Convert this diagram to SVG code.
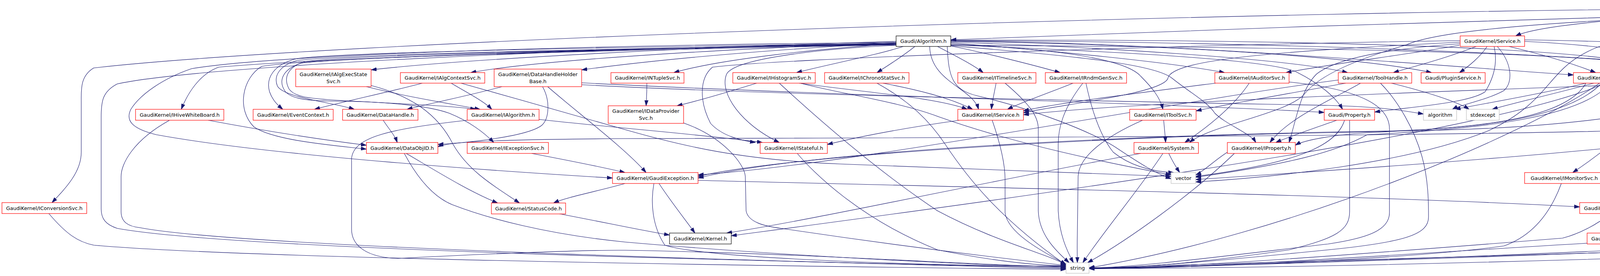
<svg xmlns="http://www.w3.org/2000/svg" width="6165" height="707" viewBox="0 0 6165 707">
<defs>
<style>
.node rect{fill:#fff;stroke:#ff0000;stroke-width:1.2}
.node.ext rect{stroke:#bfbfbf}
.node.blk rect{stroke:#000}
.node.root rect{fill:#bfbfbf;stroke:#000}
.node text{font-family:"DejaVu Sans","Liberation Sans",sans-serif;font-size:13px;fill:#000;text-anchor:middle}
#edges path{fill:none;stroke:#191970;stroke-width:1.1;marker-end:url(#arr)}
</style>
<marker id="arr" viewBox="0 0 14 10" refX="14" refY="5" markerWidth="14" markerHeight="10" markerUnits="userSpaceOnUse" orient="auto"><path d="M0,0.5L14,5L0,9.5z" fill="#191970" stroke="#191970" stroke-width="1"/></marker>
</defs>
<rect width="6165" height="707" fill="#fff"/>
<g id="edges">
<path d="M4792,24 C4200,40 3200,70 2434,102"/>
<path d="M4792,22 C4300,30 3950,60 3880,92"/>
<path d="M4792,19 C3000,25 800,110 240,174 C205,195 208,230 208,260 L208,390 C208,440 170,480 133,519"/>
<path d="M4907,34 C4860,110 4790,200 4745,280"/>
<path d="M4915,34 C4912,150 4880,260 4800,360 C4700,470 4540,550 4382,597"/>
<path d="M4922,34 C4962,130 4966,220 4966,300 C4966,370 4980,410 4992,442"/>
<path d="M4940,34 C4990,60 5030,80 5050,92"/>
<path d="M4970,34 C5080,60 5180,80 5215,92"/>
<path d="M5010,34 C5150,55 5300,70 5380,83"/>
<path d="M5037,27 C5250,40 5480,75 5570,92"/>
<path d="M5037,24 C5350,35 5650,70 5770,92"/>
<path d="M5037,21 C5500,30 5900,70 5990,92"/>
<path d="M4792,28 C4300,40 3720,60 3600,115 C3480,150 3380,190 3340,240 C3300,290 3100,320 3045,365"/>
<path d="M4792,30 C4400,50 4150,80 4050,140 C3960,190 3960,265 3810,335 C3600,420 3250,455 3061,466"/>
<path d="M2294,106 C1800,120 1200,150 950,179"/>
<path d="M2294,108 C1900,125 1400,150 1205,186"/>
<path d="M2294,110 C2000,125 1700,150 1489,179"/>
<path d="M2294,112 C2100,125 1850,150 1725,186"/>
<path d="M2312,119 C2250,140 2120,165 2039,186"/>
<path d="M2342,119 C2310,145 2270,170 2245,186"/>
<path d="M2400,119 C2440,140 2490,165 2517,186"/>
<path d="M2431,117 C2520,135 2640,165 2714,186"/>
<path d="M2434,110 C2700,130 3000,160 3135,186"/>
<path d="M2434,108 C2800,120 3300,150 3450,186"/>
<path d="M2434,106 C2900,112 3450,140 3665,186"/>
<path d="M2434,105 C3000,108 3700,170 4028,192"/>
<path d="M2434,104 C3200,106 4200,140 4434,186"/>
<path d="M2380,119 C2382,210 2490,225 2505,280"/>
<path d="M2434,113 C2700,125 2880,150 2920,195 C2950,225 2970,250 2977,280"/>
<path d="M2434,115 C2800,130 3250,150 3320,185 C3380,215 3420,250 3437,280"/>
<path d="M2434,117 C2700,140 2950,160 3000,200 C3050,240 3090,260 3110,290 C3140,320 3200,340 3215,365"/>
<path d="M2434,103 C3300,100 4150,120 4250,180 C4280,240 4150,360 4026,442"/>
<path d="M2434,116 C3200,120 4100,130 4270,175 C4320,220 4300,300 4290,400 C4280,500 4240,560 4194,597"/>
<path d="M2294,116 C2100,125 1880,150 1860,190 C1840,240 1900,320 1995,365"/>
<path d="M2294,113 C1600,124 900,138 760,155 C715,168 700,195 710,220 C725,250 850,262 907,280"/>
<path d="M2294,114 C1600,125 900,140 780,158 C735,172 725,200 740,228 C755,250 800,252 850,256 C1000,265 1150,270 1218,280"/>
<path d="M2294,115 C1600,128 900,145 770,162 C722,178 712,208 730,234 C748,256 800,258 850,259 C1000,260 1100,272 1150,290 C1200,310 1240,340 1264,365"/>
<path d="M2294,111 C1600,120 900,133 760,150 C700,165 680,200 690,235 C698,258 712,270 724,280"/>
<path d="M2294,112 C1600,122 800,150 560,172 C510,190 480,240 464,280"/>
<path d="M2294,113 C1600,125 800,148 670,170 C620,200 605,280 650,325 C700,360 850,372 938,382"/>
<path d="M2294,112 C1500,120 500,170 300,215 C262,235 259,260 259,300 L259,535 C259,560 270,575 300,585 C600,640 2000,670 2729,686"/>
<path d="M2294,109 C1500,115 700,140 490,176 C420,200 360,240 335,280 C320,310 340,330 400,345 C700,400 1300,440 1568,456"/>
<path d="M2425,119 C2428,200 2440,230 2500,245 C2650,280 2800,340 2860,380 C2920,420 2960,445 2998,458"/>
<path d="M3736,116 C3600,140 3400,165 3292,186"/>
<path d="M3779,119 C3700,150 3620,170 3567,186"/>
<path d="M3807,119 C3790,145 3760,170 3736,186"/>
<path d="M3825,119 C3832,150 3830,190 3802,235 C3760,265 3600,275 3519,287"/>
<path d="M3833,119 C3870,160 3875,210 3850,232 C3810,255 3740,268 3718,280"/>
<path d="M3863,119 C3950,140 4020,160 4085,186"/>
<path d="M3903,106 C4100,115 4350,150 4452,186"/>
<path d="M3903,102 C4400,110 4700,140 4700,200 C4700,240 4630,265 4592,280"/>
<path d="M3738,104 C3000,115 2000,150 1824,172 C1790,200 1790,260 1819,316 C1850,350 1900,360 1934,365"/>
<path d="M3738,108 C3300,130 3000,150 2990,200 C2980,240 2700,270 2620,289"/>
<path d="M3738,112 C3550,125 3420,150 3370,190 C3330,230 3320,300 3300,365"/>
<path d="M938,222 C1050,250 1150,265 1229,280"/>
<path d="M950,219 C1050,245 1120,290 1160,370 C1200,440 1270,480 1330,520"/>
<path d="M1081,213 C1000,235 880,260 805,280"/>
<path d="M1155,213 C1200,240 1240,260 1259,280"/>
<path d="M1180,213 C1320,252 1480,298 1600,332 C1750,375 1900,410 2150,420 C2500,435 2850,448 2998,452"/>
<path d="M1285,222 C1200,245 1100,265 1042,280"/>
<path d="M1389,222 C1410,260 1405,305 1387,321 C1350,350 1200,365 1121,370"/>
<path d="M1402,222 C1480,290 1600,380 1654,442"/>
<path d="M1489,217 C2000,245 3000,262 3400,270 C3550,274 3600,285 3644,292"/>
<path d="M1489,212 C2000,240 3000,265 3390,288"/>
<path d="M981,308 C995,330 1010,345 1017,365"/>
<path d="M533,308 C650,330 800,355 938,372"/>
<path d="M434,308 C340,360 310,420 310,452 L310,542 C310,570 330,580 357,583 C600,630 1800,665 2729,688"/>
<path d="M125,547 C170,600 200,620 240,628 C600,660 1800,680 2729,690"/>
<path d="M1196,308 C1000,330 905,350 900,406 L900,587 C900,630 940,660 1019,662 C1250,650 1500,640 1600,641 C2100,650 2500,680 2729,684"/>
<path d="M1380,306 C1600,330 1800,345 1952,365"/>
<path d="M1040,393 C1120,440 1200,490 1274,520"/>
<path d="M1035,393 C1060,440 1100,500 1157,524 C1250,560 1400,600 1600,620 C2000,655 2500,680 2729,683"/>
<path d="M1361,393 C1450,410 1550,430 1600,442"/>
<path d="M1600,470 C1530,490 1450,505 1417,520"/>
<path d="M1687,470 C1720,520 1760,570 1779,597"/>
<path d="M1674,470 C1665,520 1670,580 1702,628 C1800,660 2300,680 2729,682"/>
<path d="M1787,462 C2500,480 3500,500 4044,530"/>
<path d="M1428,547 C1550,570 1650,592 1714,602"/>
<path d="M1656,213 C1656,240 1655,255 1654,271"/>
<path d="M1937,213 C1850,240 1780,260 1733,271"/>
<path d="M1995,213 C2100,310 2250,440 2400,540 C2550,620 2680,650 2729,678"/>
<path d="M2046,213 C2200,235 2400,250 2476,280"/>
<path d="M2049,213 C2150,240 2300,260 2400,298 C2600,370 2850,420 2998,448"/>
<path d="M2260,213 C2350,230 2430,250 2490,280"/>
<path d="M2245,213 C2330,260 2380,310 2420,370 C2480,460 2560,560 2729,679"/>
<path d="M1750,315 C1850,350 1906,420 1908,452 L1910,540 C1915,570 1960,580 2000,585 C2300,630 2550,660 2729,680"/>
<path d="M2041,393 C2080,440 2200,560 2400,640 C2550,670 2650,680 2729,681"/>
<path d="M2550,213 C2545,240 2540,260 2538,280"/>
<path d="M2573,213 C2640,270 2658,300 2658,330 L2658,540 C2660,600 2700,640 2737,673"/>
<path d="M2747,213 C2680,240 2620,260 2579,280"/>
<path d="M2772,213 C2720,280 2709,330 2709,370 L2709,540 C2712,600 2730,640 2748,673"/>
<path d="M2780,213 C2790,260 2810,340 2850,390 C2900,430 2960,440 3005,442"/>
<path d="M3112,213 C2900,240 2700,265 2620,284"/>
<path d="M3198,213 C3160,270 3100,320 3033,365"/>
<path d="M3300,210 C3450,225 3557,260 3557,330 L3557,545 C3557,590 3500,610 3400,625 C3100,660 2900,686 2788,686"/>
<path d="M2456,308 C2300,330 2200,350 2118,370"/>
<path d="M2540,308 C2565,380 2573,430 2573,460 L2573,545 C2580,600 2680,650 2729,677"/>
<path d="M2979,308 C2981,330 2983,350 2984,365"/>
<path d="M2925,308 C2830,350 2762,400 2760,452 L2758,600 C2757,640 2758,660 2758,673"/>
<path d="M2992,393 C3000,410 3012,430 3020,442"/>
<path d="M2977,393 C2920,480 2820,600 2772,673"/>
<path d="M2920,393 C2500,470 2100,560 1860,597"/>
<path d="M3142,390 C3110,410 3080,440 3061,448"/>
<path d="M3160,393 C3050,500 2880,620 2784,673"/>
<path d="M3445,213 C3300,240 3150,265 3062,284"/>
<path d="M3483,213 C3420,250 3300,300 3251,365"/>
<path d="M3534,213 C3580,260 3620,330 3640,400 C3657,460 3657,520 3657,556 C3657,600 3600,620 3400,640 C3100,670 2900,687 2788,687"/>
<path d="M3562,213 C3650,235 3730,260 3761,280"/>
<path d="M3426,205 C3000,260 2200,420 1787,448"/>
<path d="M3422,308 C3360,330 3300,350 3266,365"/>
<path d="M3442,308 C3420,380 3300,420 3061,452"/>
<path d="M3455,308 C3455,380 3455,450 3455,542 C3455,590 3420,610 3300,640 C3100,670 2900,688 2788,688"/>
<path d="M3997,470 C3975,530 3935,600 3850,630 C3600,665 3000,688 2788,688"/>
<path d="M4060,213 C3950,240 3800,265 3725,280"/>
<path d="M4080,213 C3980,240 3870,265 3820,280"/>
<path d="M4100,213 C4000,320 3700,330 3500,340 C3420,345 3340,358 3316,372"/>
<path d="M4122,213 C4050,300 3800,330 3500,345 C3420,390 3300,420 3061,454"/>
<path d="M4060,213 C4000,320 3700,335 3400,340 C2800,350 2000,400 1787,452"/>
<path d="M4110,213 C3800,350 2500,520 1872,604"/>
<path d="M4135,213 C4137,300 4138,420 4138,520"/>
<path d="M4186,213 C4300,240 4400,265 4449,280"/>
<path d="M4095,213 C3900,350 3300,600 2788,686"/>
<path d="M4495,213 C4380,300 4250,420 4153,520"/>
<path d="M4490,213 C4420,250 4388,270 4388,294 L4385,452 C4380,520 4320,560 4230,597"/>
<path d="M4536,213 C4532,240 4525,260 4520,280"/>
<path d="M4643,213 C4750,225 4870,280 4870,330 L4870,560 C4870,600 4830,614 4760,620 C4400,645 3200,670 2788,687"/>
<path d="M4477,213 C4300,290 4000,330 3600,335 C3000,342 2100,380 1787,456"/>
<path d="M4418,208 C3800,230 2900,260 2620,294"/>
<path d="M4510,308 C4480,380 4474,420 4474,460 L4474,540 C4474,580 4450,610 4388,628 C4000,650 3200,680 2788,687"/>
<path d="M4668,308 C4500,345 3000,352 1600,355 C1300,357 1150,362 1121,376"/>
<path d="M4668,308 C4300,380 3500,430 3061,460"/>
<path d="M4735,308 C4760,360 4763,400 4763,430 L4763,565 C4763,600 4740,614 4700,620 C4400,640 3200,680 2788,688"/>
<path d="M4143,547 C4148,565 4153,585 4156,597"/>
<path d="M4176,547 C4230,565 4280,585 4311,597"/>
<path d="M4122,547 C4090,575 4040,600 4000,610 C3500,650 3000,688 2788,688"/>
<path d="M4063,623 C3600,650 3100,688 2788,687"/>
<path d="M4996,470 C4980,530 4950,590 4882,628 C4700,650 3400,688 2788,688"/>
</g>
<g id="n-root" class="node root"><rect x="4792" y="5.5" width="245" height="28"/><text x="4914.5" y="24">GaudiHive/src/HiveDataBroker.cpp</text></g>
<g id="n-alg" class="node blk"><rect x="2294" y="92" width="140" height="27"/><text x="2364" y="110">Gaudi/Algorithm.h</text></g>
<g id="n-svc" class="node"><rect x="3738" y="92" width="165" height="27"/><text x="3820.5" y="110">GaudiKernel/Service.h</text></g>
<g id="n-blex" class="node ext"><rect x="5002" y="92" width="166" height="27"/><text x="5085" y="110">boost/lexical_cast.hpp</text></g>
<g id="n-btok" class="node ext"><rect x="5192" y="92" width="149" height="27"/><text x="5266.5" y="110">boost/tokenizer.hpp</text></g>
<g id="n-rfe" class="node ext"><rect x="5364" y="83" width="146" height="45"/><text x="5437" y="101">range/v3/algorithm</text><text x="5437" y="118.5">/for_each.hpp</text></g>
<g id="n-rfil" class="node ext"><rect x="5534" y="92" width="175" height="27"/><text x="5621.5" y="110">range/v3/view/filter.hpp</text></g>
<g id="n-rrev" class="node ext"><rect x="5732" y="92" width="195" height="27"/><text x="5829.5" y="110">range/v3/view/reverse.hpp</text></g>
<g id="n-rtr" class="node ext"><rect x="5951" y="92" width="210" height="27"/><text x="6056" y="110">range/v3/view/transform.hpp</text></g>
<g id="n-aes" class="node"><rect x="757" y="177" width="193" height="45"/><text x="853.5" y="195">GaudiKernel/IAlgExecState</text><text x="853.5" y="212.5">Svc.h</text></g>
<g id="n-acs" class="node"><rect x="1025" y="186" width="216" height="27"/><text x="1133" y="204">GaudiKernel/IAlgContextSvc.h</text></g>
<g id="n-dhhb" class="node"><rect x="1265" y="177" width="224" height="45"/><text x="1377" y="195">GaudiKernel/DataHandleHolder</text><text x="1377" y="212.5">Base.h</text></g>
<g id="n-ntup" class="node"><rect x="1564" y="186" width="187" height="27"/><text x="1657.5" y="204">GaudiKernel/INTupleSvc.h</text></g>
<g id="n-hist" class="node"><rect x="1876" y="186" width="211" height="27"/><text x="1981.5" y="204">GaudiKernel/IHistogramSvc.h</text></g>
<g id="n-chrono" class="node"><rect x="2111" y="186" width="216" height="27"/><text x="2219" y="204">GaudiKernel/IChronoStatSvc.h</text></g>
<g id="n-tl" class="node"><rect x="2452" y="186" width="200" height="27"/><text x="2552" y="204">GaudiKernel/ITimelineSvc.h</text></g>
<g id="n-rndm" class="node"><rect x="2676" y="186" width="208" height="27"/><text x="2780" y="204">GaudiKernel/IRndmGenSvc.h</text></g>
<g id="n-aud" class="node"><rect x="3110" y="186" width="190" height="27"/><text x="3205" y="204">GaudiKernel/IAuditorSvc.h</text></g>
<g id="n-th" class="node"><rect x="3426" y="186" width="188" height="27"/><text x="3520" y="204">GaudiKernel/ToolHandle.h</text></g>
<g id="n-ps" class="node"><rect x="3638" y="186" width="164" height="27"/><text x="3720" y="204">Gaudi/PluginService.h</text></g>
<g id="n-ph" class="node"><rect x="4028" y="186" width="213" height="27"/><text x="4134.5" y="204">GaudiKernel/PropertyHolder.h</text></g>
<g id="n-cm" class="node"><rect x="4417" y="186" width="246" height="27"/><text x="4540" y="204">GaudiKernel/CommonMessaging.h</text></g>
<g id="n-hwb" class="node"><rect x="347" y="280" width="226" height="28"/><text x="460" y="298.5">GaudiKernel/IHiveWhiteBoard.h</text></g>
<g id="n-ec" class="node"><rect x="648" y="280" width="205" height="28"/><text x="750.5" y="298.5">GaudiKernel/EventContext.h</text></g>
<g id="n-dh" class="node"><rect x="877" y="280" width="193" height="28"/><text x="973.5" y="298.5">GaudiKernel/DataHandle.h</text></g>
<g id="n-ialg" class="node"><rect x="1196" y="280" width="184" height="28"/><text x="1288" y="298.5">GaudiKernel/IAlgorithm.h</text></g>
<g id="n-idp" class="node"><rect x="1557" y="271" width="193" height="45"/><text x="1653.5" y="289">GaudiKernel/IDataProvider</text><text x="1653.5" y="306.5">Svc.h</text></g>
<g id="n-isvc" class="node"><rect x="2452" y="280" width="168" height="28"/><text x="2536" y="298.5">GaudiKernel/IService.h</text></g>
<g id="n-its" class="node"><rect x="2892" y="280" width="170" height="28"/><text x="2977" y="298.5">GaudiKernel/IToolSvc.h</text></g>
<g id="n-prop" class="node"><rect x="3390" y="280" width="129" height="28"/><text x="3454.5" y="298.5">Gaudi/Property.h</text></g>
<g id="n-algo" class="node ext"><rect x="3644" y="280" width="85" height="28"/><text x="3686.5" y="298.5">algorithm</text></g>
<g id="n-stdex" class="node ext"><rect x="3754" y="280" width="84" height="28"/><text x="3796" y="298.5">stdexcept</text></g>
<g id="n-isl" class="node"><rect x="4419" y="280" width="191" height="28"/><text x="4514.5" y="298.5">GaudiKernel/ISvcLocator.h</text></g>
<g id="n-idb" class="node"><rect x="4635" y="280" width="192" height="28"/><text x="4731" y="298.5">GaudiKernel/IDataBroker.h</text></g>
<g id="n-doid" class="node"><rect x="938" y="365" width="183" height="28"/><text x="1029.5" y="383.5">GaudiKernel/DataObjID.h</text></g>
<g id="n-iexc" class="node"><rect x="1196" y="365" width="208" height="28"/><text x="1300" y="383.5">GaudiKernel/IExceptionSvc.h</text></g>
<g id="n-istf" class="node"><rect x="1946" y="365" width="172" height="28"/><text x="2032" y="383.5">GaudiKernel/IStateful.h</text></g>
<g id="n-sys" class="node"><rect x="2903" y="365" width="165" height="28"/><text x="2985.5" y="383.5">GaudiKernel/System.h</text></g>
<g id="n-iprop" class="node"><rect x="3142" y="365" width="174" height="28"/><text x="3229" y="383.5">GaudiKernel/IProperty.h</text></g>
<g id="n-gex" class="node"><rect x="1568" y="442" width="219" height="28"/><text x="1677.5" y="460.5">GaudiKernel/GaudiException.h</text></g>
<g id="n-vec" class="node ext"><rect x="2998" y="442" width="63" height="28"/><text x="3029.5" y="460.5">vector</text></g>
<g id="n-imon" class="node"><rect x="3903" y="442" width="203" height="28"/><text x="4004.5" y="460.5">GaudiKernel/IMonitorSvc.h</text></g>
<g id="n-iam" class="node"><rect x="4902" y="442" width="196" height="28"/><text x="5000" y="460.5">GaudiKernel/IAlgManager.h</text></g>
<g id="n-iconv" class="node"><rect x="5" y="519" width="217" height="28"/><text x="113.5" y="537.5">GaudiKernel/IConversionSvc.h</text></g>
<g id="n-sc" class="node"><rect x="1258" y="520" width="190" height="28"/><text x="1353" y="538.5">GaudiKernel/StatusCode.h</text></g>
<g id="n-ms" class="node"><rect x="4044" y="519" width="191" height="28"/><text x="4139.5" y="537.5">GaudiKernel/MsgStream.h</text></g>
<g id="n-kern" class="node blk"><rect x="1714" y="597" width="158" height="28"/><text x="1793" y="615.5">GaudiKernel/Kernel.h</text></g>
<g id="n-imsg" class="node"><rect x="4063" y="597" width="201" height="28"/><text x="4163.5" y="615.5">GaudiKernel/IMessageSvc.h</text></g>
<g id="n-ioman" class="node ext"><rect x="4313" y="597" width="75" height="28"/><text x="4350.5" y="615.5">iomanip</text></g>
<g id="n-str" class="node ext"><rect x="2729" y="673" width="59" height="27"/><text x="2758.5" y="691">string</text></g>
</svg>
